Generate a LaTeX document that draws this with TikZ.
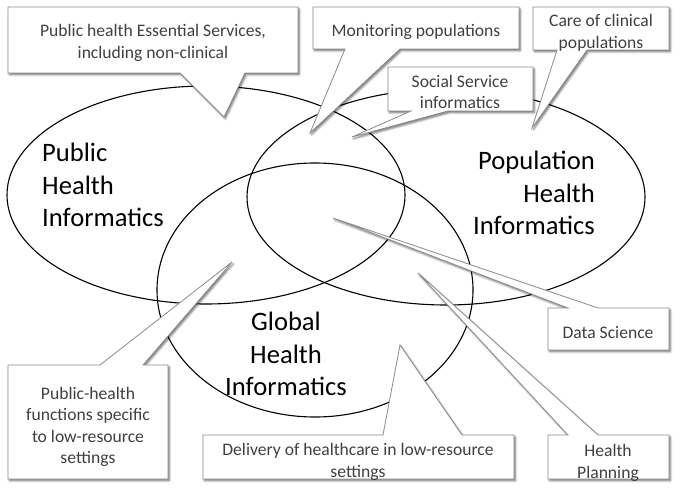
\documentclass[tikz,border=0pt]{standalone}
\usepackage{fontspec}
\setmainfont{Carlito}
\usepackage{tikz}
\usetikzlibrary{shadows.blur}

\tikzset{
  ring/.style={line width=1.1pt},
  bubble/.style={draw=black!45, fill=white, line width=0.8pt,
    blur shadow={shadow xshift=1.4pt, shadow yshift=-1.8pt, shadow blur radius=2pt, shadow opacity=55}},
  note/.style={text=black!75, align=center, inner sep=0pt, font=\fontsize{17.6}{21.5}\selectfont},
  big/.style={inner sep=0pt, font=\fontsize{26.6}{32.5}\selectfont}
}

\begin{document}
\begin{tikzpicture}[x=1pt,y=-1pt]

\useasboundingbox (0,0) rectangle (700,494);

    % the three fields
    \draw[ring] (206,195) ellipse [x radius=199, y radius=109];
    \draw[ring] (446,197) ellipse [x radius=199, y radius=108];
    \draw[ring] (315,290) ellipse [x radius=158, y radius=127];

    \node[big, align=left, anchor=west] (phi) at (42,185) {Public\\Health\\Informatics};
    \node[big, align=right, anchor=east] (pop) at (595,193) {Population\\Health\\Informatics};
    \node[big, align=center] (ghi) at (286,354) {Global\\Health\\Informatics};

    % callouts
\draw[bubble] (8,7) -- (298,7) -- (298,73) -- (245,73) -- (224,117) -- (180,73) -- (8,73) -- cycle;
\node[note] (ess) at (153,43) {Public health Essential Services,\\including non-clinical};

\draw[bubble] (313,7) -- (519,7) -- (519,49) -- (400,49) -- (310,133) -- (345,49) -- (313,49) -- cycle;
\node[note] (mon) at (416,32) {Monitoring populations};

\draw[bubble] (533,7) -- (669,7) -- (669,50) -- (587,50) -- (532,128) -- (557,50) -- (533,50) -- cycle;
\node[note] (care) at (601,33) {Care of clinical\\populations};

\draw[bubble] (388,67) -- (533,67) -- (533,111) -- (448,111) -- (352,137) -- (411,111) -- (388,111) -- cycle;
\node[note] (soc) at (460,92) {Social Service\\informatics};

\draw[bubble] (548,308) -- (568,308) -- (333,218) -- (598,308) -- (669,308) -- (669,350) -- (548,350) -- cycle;
\node[note] (ds) at (608,333) {Data Science};

\draw[bubble] (548,435) -- (568,435) -- (418,273) -- (598,435) -- (669,435) -- (669,479) -- (548,479) -- cycle;
\node[note] (plan) at (608,463) {Health\\Planning};

\draw[bubble] (203,435) -- (383,435) -- (400,345) -- (462,435) -- (514,435) -- (514,479) -- (203,479) -- cycle;
\node[note] (del) at (358,462) {Delivery of healthcare in low-resource\\settings};

\draw[bubble] (8,365) -- (100,365) -- (232,262) -- (143,365) -- (168,365) -- (168,479) -- (8,479) -- cycle;
\node[note] (low) at (88,427) {Public-health\\functions specific\\to low-resource\\settings};

\end{tikzpicture}
\end{document}
